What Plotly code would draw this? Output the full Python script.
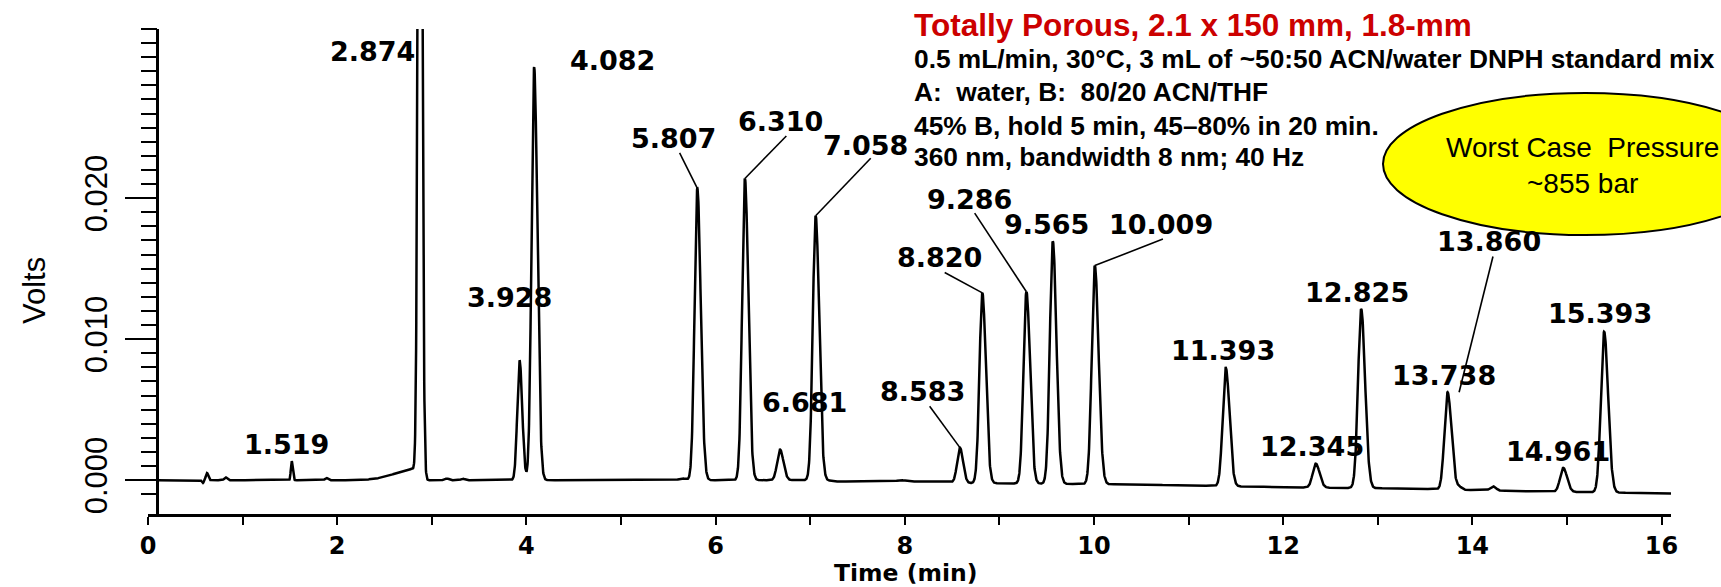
import numpy as np
import plotly.graph_objects as go

# ---------------- chromatogram data ----------------
# retention time (min), height above baseline (V), left / right peak widths (min)
peak_times = [0.58, 0.624, 0.82, 1.519, 1.886, 2.84, 2.874, 3.16, 3.33,
              3.928, 4.082, 5.65, 5.807, 6.310, 6.681, 7.058, 7.96,
              8.583, 8.820, 9.286, 9.565, 10.009, 11.393, 12.345, 12.825,
              13.738, 13.860, 14.22, 14.961, 15.393]
peak_heights = [-0.0002, 0.0005, 0.0002, 0.00135, 0.00015, 0.0008, 0.077, 0.00012, 0.0001,
                0.0085, 0.0293, 0.00012, 0.0207, 0.0214, 0.00217, 0.01875, 0.0001,
                0.0025, 0.0135, 0.0136, 0.0172, 0.0155, 0.0084, 0.0017, 0.0127,
                0.0069, 0.0002, 0.0003, 0.0017, 0.0114]
peak_sigma_left = [0.010, 0.012, 0.015, 0.009, 0.015, 0.22, 0.019, 0.02, 0.02,
                   0.024, 0.027, 0.04, 0.029, 0.029, 0.030, 0.030, 0.04,
                   0.029, 0.030, 0.031, 0.031, 0.032, 0.032, 0.033, 0.033,
                   0.033, 0.030, 0.030, 0.033, 0.034]
peak_sigma_right = [0.010, 0.012, 0.015, 0.011, 0.015, 0.02, 0.021, 0.02, 0.02,
                    0.028, 0.034, 0.04, 0.036, 0.036, 0.036, 0.037, 0.04,
                    0.033, 0.037, 0.038, 0.038, 0.040, 0.040, 0.040, 0.041,
                    0.041, 0.030, 0.030, 0.040, 0.042]

# detector baseline drift
base_times = [0.1, 7.15, 7.3, 8.4, 8.6, 10.3, 11.0, 12.0, 13.3, 14.5, 16.1]
base_volts = [0.0, 0.0, -0.0001, -0.0001, -0.0002, -0.0003, -0.00038, -0.0005,
              -0.0006, -0.00078, -0.00094]

# integrated peak labels (retention times)
label_texts = ["1.519", "2.874", "3.928", "4.082", "5.807", "6.310", "6.681", "7.058",
               "8.583", "8.820", "9.286", "9.565", "10.009", "11.393", "12.345",
               "12.825", "13.738", "13.860", "14.961", "15.393"]

header_title = "Totally Porous, 2.1 x 150 mm, 1.8-mm"
header_lines = ["0.5 mL/min, 30°C, 3 mL of ~50:50 ACN/water DNPH standard mix",
                "A:\u00a0 water, B:\u00a0 80/20 ACN/THF",
                "45% B, hold 5 min, 45–80% in 20 min.",
                "360 nm, bandwidth 8 nm; 40 Hz"]
callout_lines = ["Worst Case\u00a0 Pressure", "~855 bar"]


def signal(t):
    t = np.asarray(t, dtype=float)
    y = np.interp(t, base_times, base_volts)
    for tr, h, sl, sr in zip(peak_times, peak_heights, peak_sigma_left, peak_sigma_right):
        s = np.where(t < tr, sl, sr)
        y = y + h * np.exp(-0.5 * ((t - tr) / s) ** 2)
    return y


time = np.arange(0.1, 16.1001, 0.002)
volts = signal(time)

# ---------------- layout geometry ----------------
W, H = 1721, 587
PLOT_L, PLOT_R, PLOT_T, PLOT_B = 148, 1671, 29, 514
X_RANGE = [0.0, 16.1]
Y_RANGE = [-0.0024, 0.032]


def paper_x(px):
    return (px - PLOT_L) / (PLOT_R - PLOT_L)


def paper_y(py):
    return (PLOT_B - py) / (PLOT_B - PLOT_T)


# label centre positions (min, V) and optional leader start points
label_layout = {
    "1.519": (1.463, 0.00253, None),
    "2.874": (2.375, 0.03038, None),
    "3.928": (3.824, 0.01297, None),
    "4.082": (4.912, 0.02980, None),
    "5.807": (5.557, 0.02424, (5.620, 0.02321)),
    "6.310": (6.688, 0.02542, (6.748, 0.02441)),
    "6.681": (6.937, 0.00550, None),
    "7.058": (7.587, 0.02373, (7.640, 0.02283)),
    "8.583": (8.189, 0.00632, (8.263, 0.00524)),
    "8.820": (8.368, 0.01577, (8.422, 0.01473)),
    "9.286": (8.686, 0.01988, (8.739, 0.01894)),
    "9.565": (9.497, 0.01811, None),
    "10.009": (10.712, 0.01811, (10.729, 0.01710)),
    "11.393": (11.360, 0.00920, None),
    "12.345": (12.307, 0.00242, None),
    "12.825": (12.782, 0.01333, None),
    "13.738": (13.697, 0.00743, None),
    "13.860": (14.173, 0.01693, (14.218, 0.01586)),
    "14.961": (14.902, 0.00205, None),
    "15.393": (15.354, 0.01180, None),
}

LABEL_FONT = dict(family="DejaVu Sans", size=27, color="black", weight="bold")
SANS = "Liberation Sans, Arial, sans-serif"

fig = go.Figure()
fig.add_trace(go.Scatter(x=time, y=volts, mode="lines",
                         line=dict(color="black", width=2.5),
                         hoverinfo="skip", showlegend=False))

annotations = []
shapes = []

for txt in label_texts:
    lx, ly, lead = label_layout[txt]
    annotations.append(dict(x=lx, y=ly, xref="x", yref="y", text=txt, showarrow=False,
                            xanchor="center", yanchor="middle", font=LABEL_FONT))
    if lead is not None:
        rt = float(txt)
        if txt == "13.860":
            end_v = float(signal(13.738))  # leader runs onto the 13.738 peak flank
        else:
            end_v = float(signal(rt))
        shapes.append(dict(type="line", xref="x", yref="y", x0=lead[0], y0=lead[1],
                           x1=rt, y1=end_v, line=dict(color="black", width=1.6)))

# y-axis title
annotations.append(dict(x=paper_x(34), y=paper_y(291), xref="paper", yref="paper",
                        text="Volts", textangle=-90, showarrow=False,
                        xanchor="center", yanchor="middle",
                        font=dict(family=SANS, size=31, color="black")))
# x-axis title
annotations.append(dict(x=paper_x(905), y=paper_y(573), xref="paper", yref="paper",
                        text="Time (min)", showarrow=False, borderpad=0,
                        xanchor="center", yanchor="middle",
                        font=dict(family="DejaVu Sans", size=23.5, color="black", weight="bold")))

# method header
annotations.append(dict(x=paper_x(912), y=paper_y(25), xref="paper", yref="paper",
                        text=header_title, showarrow=False, xanchor="left", yanchor="middle",
                        font=dict(family=SANS, size=31.5, color="#CC0000", weight="bold")))
for i, line in enumerate(header_lines):
    annotations.append(dict(x=paper_x(912), y=paper_y([59, 92, 126, 157][i]),
                            xref="paper", yref="paper", text=line, showarrow=False,
                            xanchor="left", yanchor="middle",
                            font=dict(family=SANS, size=26.3, color="black", weight="bold")))

# pressure callout
shapes.append(dict(type="circle", xref="paper", yref="paper",
                   x0=paper_x(1383), x1=paper_x(1787), y0=paper_y(235), y1=paper_y(93),
                   fillcolor="#FFFF00", line=dict(color="black", width=2), layer="above"))
for i, line in enumerate(callout_lines):
    annotations.append(dict(x=paper_x(1582), y=paper_y([147, 183][i]),
                            xref="paper", yref="paper", text=line, showarrow=False,
                            xanchor="center", yanchor="middle",
                            font=dict(family=SANS, size=28, color="black")))

minor_y = [round(v, 3) for v in np.arange(-0.001, 0.0325, 0.001)]

fig.update_layout(
    width=W, height=H,
    margin=dict(l=PLOT_L, r=W - PLOT_R, t=PLOT_T, b=H - PLOT_B, pad=0),
    paper_bgcolor="white", plot_bgcolor="white",
    showlegend=False,
    annotations=annotations,
    shapes=shapes,
    xaxis=dict(range=X_RANGE, showgrid=False, zeroline=False,
               showline=True, linecolor="black", linewidth=2.5,
               ticks="outside", ticklen=8, tickwidth=2, tickcolor="black",
               tickmode="linear", tick0=0, dtick=2,
               minor=dict(ticks="outside", ticklen=8, tickwidth=2, tickcolor="black",
                          tickmode="linear", tick0=0, dtick=1),
               ticklabelstandoff=0,
               tickfont=dict(family="DejaVu Sans", size=24, color="black", weight="bold")),
    yaxis=dict(range=Y_RANGE, showgrid=False, zeroline=False,
               anchor="free", position=paper_x(157.3),
               showline=True, linecolor="black", linewidth=2.5,
               ticks="outside", ticklen=32, tickwidth=2, tickcolor="black",
               tickmode="array", tickvals=[0, 0.01, 0.02, 0.03],
               ticktext=["0.000", "0.010", "0.020", ""],
               minor=dict(ticks="outside", ticklen=16, tickwidth=2, tickcolor="black",
                          tickmode="array", tickvals=minor_y),
               tickangle=-90, ticklabelstandoff=5,
               tickfont=dict(family=SANS, size=31, color="black")),
)

fig.write_html("out.html")
